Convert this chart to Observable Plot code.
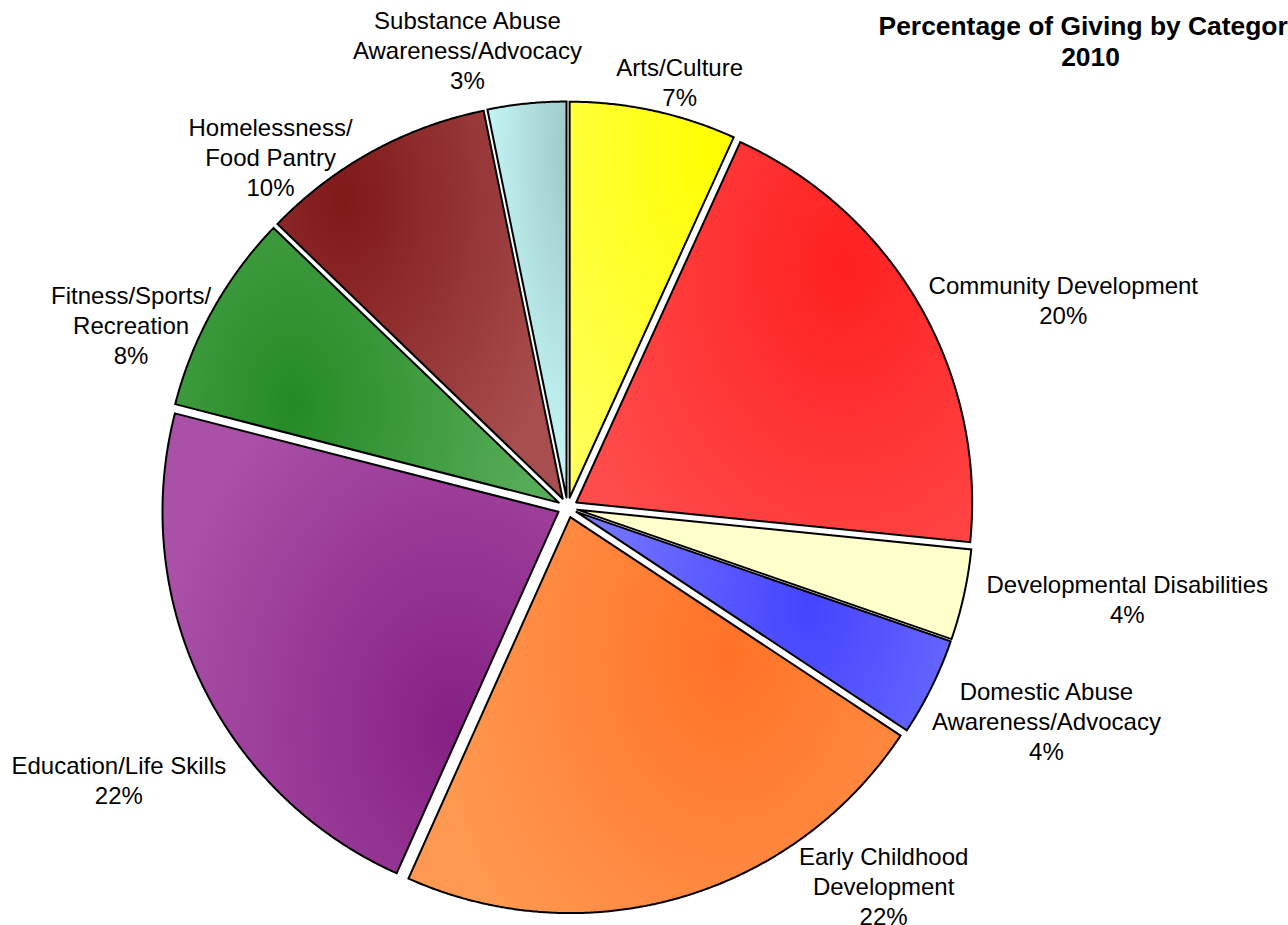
<!DOCTYPE html>
<html><head><meta charset="utf-8">
<script src="https://cdn.jsdelivr.net/npm/d3@7"></script>
<script src="https://cdn.jsdelivr.net/npm/@observablehq/plot@0.6"></script>
<style>
html,body{margin:0;padding:0;background:#fff;overflow:hidden;}
#chart svg{display:block;overflow:hidden;}
</style></head><body><div id="chart"></div>
<script>
// ---- data ----
const categories = ["Arts/Culture","Community Development","Developmental Disabilities","Domestic Abuse Awareness/Advocacy","Early Childhood Development","Education/Life Skills","Fitness/Sports/Recreation","Homelessness/Food Pantry","Substance Abuse Awareness/Advocacy"];
const labelLines = [["Arts/Culture"],["Community Development"],["Developmental Disabilities"],["Domestic Abuse","Awareness/Advocacy"],["Early Childhood","Development"],["Education/Life Skills"],["Fitness/Sports/","Recreation"],["Homelessness/","Food Pantry"],["Substance Abuse","Awareness/Advocacy"]];
const values = [6.8,19.8,3.7,4.0,22.4,22.3,8.2,9.6,3.2];
const titleLines = ["Percentage of Giving by Category","2010"];

// ---- styles ----
const darkColors  = ["#ffff00","#ff2020","#ffffcc","#4444ff","#ff7226","#862084","#248a24","#801818","#9ec9c9"];
const lightColors = ["#ffff5c","#ff4d4d","#ffffcc","#7a7aff","#ff9850","#a950a7","#56ab56","#a84e4e","#ccffff"];
const gradFocus = [[0.92,0.98],[0.34,0.93],[0.5,0.7],[0.24,0.66],[0.11,0.55],[0.04,0.63],[0.2,0.74],[0.29,0.96],[1.0,0.9]];
const gradRadius = [[0.6,1.0],[0.75,1.0],[0.7,1.0],[0.6,0.9],[0.75,1.0],[0.75,1.0],[0.6,0.9],[0.6,0.9],[0.25,1.0]];
const labelNudge = [[11,8],[20,13],[18,-5],[5,10],[177,-63],[21,79],[-5,41],[-58,51],[-47,-1]];

// ---- layout ----
const W = 1288, H = 925, CX = 567, CY = 507, R = 396, EXPLODE = 10;
const FONT = "'Liberation Sans', Arial, Helvetica, sans-serif";
const LABEL_SIZE = 24, LINE_PX = 30;

const arcs = d3.pie().sort(null).value(d => d)(values);

const slices = arcs.map((a, i) => {
  const mid = (a.startAngle + a.endAngle) / 2;
  const ox = CX + EXPLODE * Math.sin(mid), oy = CY - EXPLODE * Math.cos(mid);
  const n = Math.max(4, Math.ceil((a.endAngle - a.startAngle) / 0.005));
  const pts = [{x: ox, y: oy}];
  for (let k = 0; k <= n; k++) {
    const t = a.startAngle + (a.endAngle - a.startAngle) * k / n;
    pts.push({x: ox + R * Math.sin(t), y: oy - R * Math.cos(t)});
  }
  pts.push({x: ox, y: oy});
  const [ff, fr] = gradFocus[i];
  const fa = a.startAngle + (a.endAngle - a.startAngle) * ff;
  return {i, mid, ox, oy, pts, fx: CX + fr * R * Math.sin(fa), fy: CY - fr * R * Math.cos(fa)};
});

// label placement
const ctx = document.createElement("canvas").getContext("2d");
ctx.font = `${LABEL_SIZE}px ${FONT}`;
const labels = slices.map((s, i) => {
  const lines = [...labelLines[i], `${Math.round(values[i])}%`];
  const w = Math.max(...lines.map(l => ctx.measureText(l).width));
  const h = lines.length * LINE_PX;
  const rr = R + EXPLODE + 8;
  const px = CX + rr * Math.sin(s.mid), py = CY - rr * Math.cos(s.mid);
  return {
    text: lines.join("\n"),
    x: px + (w / 2) * Math.sin(s.mid) + labelNudge[i][0],
    y: py - (h / 2) * Math.cos(s.mid) + labelNudge[i][1]
  };
});

const marks = slices.map(s => Plot.line(s.pts, {
  x: "x", y: "y", fill: `url(#slice-grad-${s.i})`, stroke: "black", strokeWidth: 2,
  strokeLinejoin: "miter", strokeMiterlimit: 10, curve: "linear"
}));
marks.push(Plot.text(labels, {
  x: "x", y: "y", text: "text", fontSize: LABEL_SIZE, lineHeight: LINE_PX / LABEL_SIZE,
  textAnchor: "middle", lineAnchor: "middle", fontFamily: FONT, fill: "black"
}));
marks.push(Plot.text([titleLines.join("\n")], {
  frameAnchor: "top-right", dx: -198, dy: 13, textAnchor: "middle", lineAnchor: "top",
  fontSize: 26.4, fontWeight: "bold", lineHeight: 1.17, fontFamily: FONT, fill: "black"
}));

const svg = Plot.plot({
  width: W, height: H, margin: 0,
  x: {domain: [0, W], range: [0, W], axis: null},
  y: {domain: [0, H], range: [0, H], axis: null},
  style: {fontFamily: FONT, background: "white"},
  marks
});

// gradients
const NS = "http://www.w3.org/2000/svg";
const xs = svg.scale("x"), ys = svg.scale("y");
const defs = document.createElementNS(NS, "defs");
slices.forEach((s, i) => {
  const g = document.createElementNS(NS, "radialGradient");
  g.setAttribute("id", `slice-grad-${i}`);
  g.setAttribute("gradientUnits", "userSpaceOnUse");
  g.setAttribute("cx", 0); g.setAttribute("cy", 0); g.setAttribute("r", 1);
  const [rx, ry] = gradRadius[i];
  g.setAttribute("gradientTransform", `translate(${xs.apply(s.fx)},${ys.apply(s.fy)}) scale(${rx * R},${ry * R})`);
  [[0, darkColors[i]], [1, lightColors[i]]].forEach(([o, c]) => {
    const st = document.createElementNS(NS, "stop");
    st.setAttribute("offset", o); st.setAttribute("stop-color", c);
    g.appendChild(st);
  });
  defs.appendChild(g);
});
svg.insertBefore(defs, svg.firstChild);
document.getElementById("chart").appendChild(svg);
</script></body></html>
